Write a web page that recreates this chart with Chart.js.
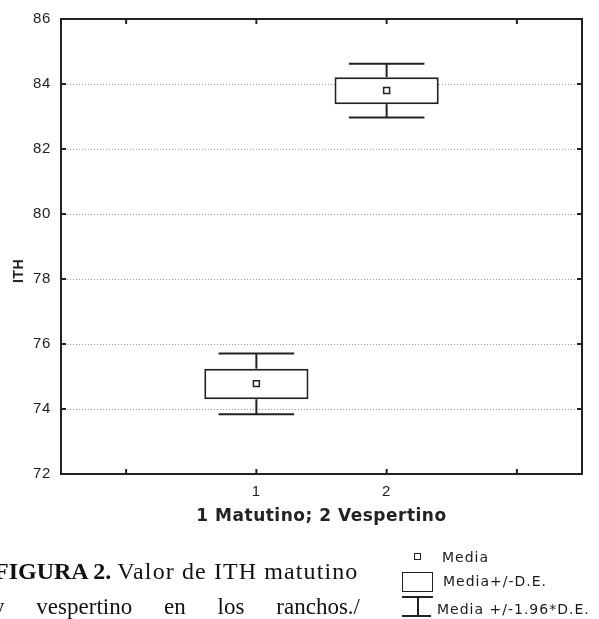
<!DOCTYPE html>
<html><head><meta charset="utf-8">
<script src="https://cdn.jsdelivr.net/npm/chart.js@4"></script>
<style>
html,body{margin:0;padding:0;background:#fff;width:599px;height:619px;overflow:hidden;position:relative;}
#wrap{position:absolute;left:0;top:0;width:599px;height:619px;}
.cap{position:absolute;font-family:'Liberation Serif','Times New Roman',serif;color:#111;line-height:26px;}
.leg{position:absolute;font-family:'DejaVu Sans',Arial,sans-serif;font-size:14px;letter-spacing:1px;color:#1a1a1a;line-height:16px;white-space:nowrap;}
.sym{position:absolute;box-sizing:border-box;}
</style></head><body>
<div id="wrap"><canvas id="c"></canvas></div>

<div class="cap" style="left:-6px;top:558px;font-size:24px;white-space:nowrap;"><b>FIGURA 2.</b> <span style="letter-spacing:1.1px;">Valor de ITH matutino</span></div>
<div class="cap" style="left:-7px;top:594px;width:367px;font-size:23px;text-align:justify;text-align-last:justify;">y vespertino en los ranchos./</div>

<div class="sym" style="left:414px;top:553px;width:7px;height:7px;border:1.5px solid #222;"></div>
<div class="leg" style="left:442px;top:549px;">Media</div>
<div class="sym" style="left:402px;top:572px;width:31px;height:20px;border:1.5px solid #222;"></div>
<div class="leg" style="left:443px;top:573px;">Media+/-D.E.</div>
<div class="sym" style="left:402px;top:596px;width:31px;height:1.5px;background:#222;"></div>
<div class="sym" style="left:417px;top:596px;width:1.5px;height:21px;background:#222;"></div>
<div class="sym" style="left:402px;top:615px;width:29px;height:1.5px;background:#222;"></div>
<div class="leg" style="left:437px;top:601px;">Media +/-1.96*D.E.</div>

<script>
// ---- data ----
const categories = ['', '1', '2', ''];
const means  = [null, 74.78, 83.80, null];
const sdLow  = [null, 74.30, 83.38, null];
const sdHigh = [null, 75.24, 84.21, null];
const ciLow  = [null, 73.84, 82.97, null];
const ciHigh = [null, 75.71, 84.62, null];
const yMin = 72, yMax = 86, yStep = 2;
const xTitle = '1 Matutino; 2 Vespertino';
const yTitle = 'ITH';

const INK = '#222';
const boxData = sdLow.map((v, i) => v == null ? null : [v, sdHigh[i]]);

const framePlugin = {
  id: 'framePlugin',
  beforeInit(chart) { chart.ctx.letterSpacing = '0.7px'; },
  beforeDraw(chart) { chart.ctx.letterSpacing = '0.7px'; },
  beforeDatasetsDraw(chart) {
    const {ctx, scales: {x, y}} = chart;
    const step = x.getPixelForValue(1) - x.getPixelForValue(0);
    const half = step * 0.29;
    ctx.save();
    ctx.strokeStyle = INK; ctx.lineWidth = 2;
    const seg = (x1, y1, x2, y2) => { ctx.beginPath(); ctx.moveTo(x1, y1); ctx.lineTo(x2, y2); ctx.stroke(); };
    means.forEach((m, i) => {
      if (m == null) return;
      const cx = x.getPixelForValue(i);
      seg(cx, y.getPixelForValue(sdHigh[i]), cx, y.getPixelForValue(ciHigh[i]));
      seg(cx - half, y.getPixelForValue(ciHigh[i]), cx + half, y.getPixelForValue(ciHigh[i]));
      seg(cx, y.getPixelForValue(sdLow[i]), cx, y.getPixelForValue(ciLow[i]));
      seg(cx - half, y.getPixelForValue(ciLow[i]), cx + half, y.getPixelForValue(ciLow[i]));
    });
    ctx.restore();
  },
  afterDraw(chart) {
    const {ctx, chartArea: a, scales: {x, y}} = chart;
    ctx.save();
    ctx.strokeStyle = INK; ctx.lineWidth = 2;
    ctx.strokeRect(a.left, a.top, a.right - a.left, a.bottom - a.top);
    const L = 5;
    ctx.beginPath();
    y.ticks.forEach((t, i) => {
      const py = y.getPixelForTick(i);
      ctx.moveTo(a.left, py); ctx.lineTo(a.left + L, py);
      ctx.moveTo(a.right, py); ctx.lineTo(a.right - L, py);
    });
    x.ticks.forEach((t, i) => {
      const px = x.getPixelForTick(i);
      ctx.moveTo(px, a.bottom); ctx.lineTo(px, a.bottom - L);
      ctx.moveTo(px, a.top); ctx.lineTo(px, a.top + L);
    });
    ctx.stroke();
    // axis titles
    ctx.fillStyle = INK;
    ctx.textAlign = 'center'; ctx.textBaseline = 'middle';
    ctx.letterSpacing = '0.5px';
    ctx.font = "bold 17px 'DejaVu Sans', Arial, sans-serif";
    ctx.fillText(xTitle, (a.left + a.right) / 2, 517);
    ctx.translate(19, 271);
    ctx.rotate(-Math.PI / 2);
    ctx.letterSpacing = '0.5px';
    ctx.font = "bold 14px 'Liberation Sans', Arial, sans-serif";
    ctx.fillText(yTitle, 0, 0);
    ctx.restore();
  }
};

new Chart(document.getElementById('c'), {
  type: 'bar',
  data: {
    labels: categories,
    datasets: [
      {
        type: 'line', label: 'Media', data: means, order: 0,
        showLine: false, pointStyle: 'rect', pointRadius: 4.2,
        pointBackgroundColor: '#fff', pointBorderColor: INK, pointBorderWidth: 1.5
      },
      {
        type: 'bar', label: 'Media+/-D.E.', data: boxData, order: 1,
        backgroundColor: '#fff', borderColor: INK, borderWidth: 2, borderSkipped: false,
        barPercentage: 0.8, categoryPercentage: 1.0
      }
    ]
  },
  options: {
    responsive: true, maintainAspectRatio: false, animation: false, devicePixelRatio: 1,
    layout: { padding: { top: 18, right: 17, bottom: 0, left: 0 } },
    plugins: { legend: { display: false }, tooltip: { enabled: false } },
    scales: {
      x: {
        type: 'category', offset: true,
        grid: { display: false, drawTicks: false },
        border: { display: false },
        ticks: { autoSkip: false, maxRotation: 0, padding: 9, color: INK,
                 font: { family: "'Liberation Sans', Arial, sans-serif", size: 15 } },
        afterFit(s) { s.height = 145; }
      },
      y: {
        min: yMin, max: yMax,
        grid: { color: '#9a9a9a', lineWidth: 1, drawTicks: false, tickLength: 0 },
        border: { display: false, dash: [1, 2] },
        ticks: { stepSize: yStep, padding: 10, color: INK,
                 font: { family: "'Liberation Sans', Arial, sans-serif", size: 15 } },
        afterFit(s) { s.width = 61; }
      }
    }
  },
  plugins: [framePlugin]
});
</script>
</body></html>
